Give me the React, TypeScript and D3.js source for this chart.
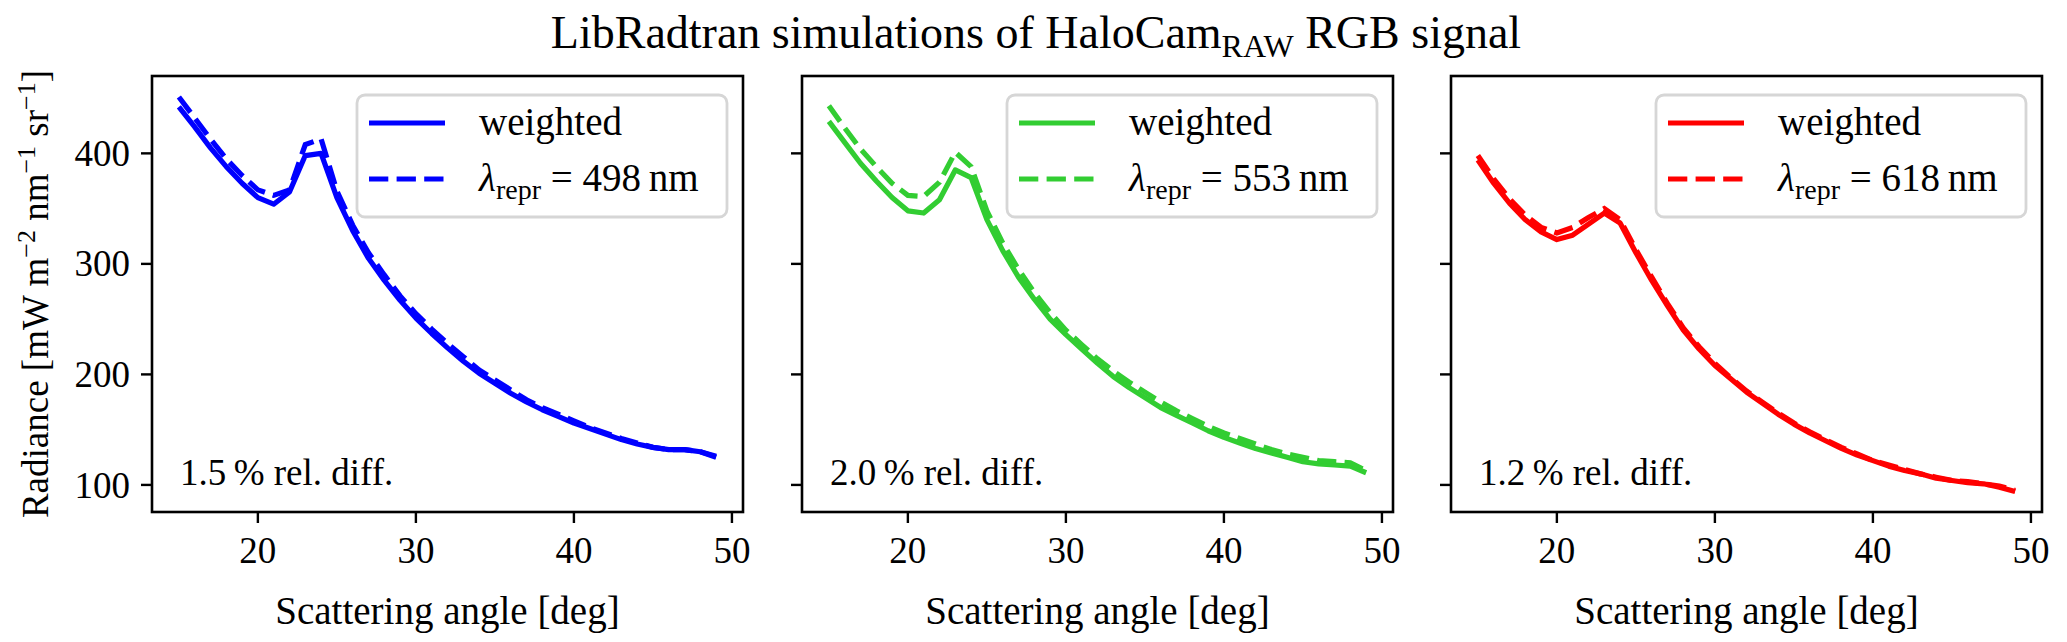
import * as d3 from 'd3';

// scattering angle [deg]
const ANGLES = [15, 16, 17, 18, 19, 20, 21, 22, 23, 24, 25, 26, 27, 28, 29, 30, 31, 32, 33, 34, 35, 36, 37, 38, 39, 40, 41, 42, 43, 44, 45, 46, 47, 48, 49];

// blue channel
const BLUE_WEIGHTED = [442, 424, 405, 388, 373, 360, 354, 365, 398, 400, 360, 330, 305, 285, 267, 251, 237, 224, 212, 201, 192, 183, 175, 168, 162, 156, 151, 146, 141, 137, 134, 132, 132, 130, 125];
const BLUE_REPR = [451, 432, 413, 395, 380, 367, 362, 367, 408, 413, 366, 335, 310, 290, 271, 255, 241, 228, 216, 204, 195, 186, 177, 170, 164, 158, 152, 147, 142, 138, 134, 132, 132, 130, 126];

// green channel
const GREEN_WEIGHTED = [429, 410, 391, 375, 360, 348, 346, 358, 385, 378, 340, 312, 288, 268, 250, 236, 223, 210, 198, 188, 179, 170, 163, 156, 149, 143, 138, 133, 129, 125, 121, 119, 118, 117, 111];
const GREEN_REPR = [443, 423, 404, 388, 373, 362, 361, 374, 401, 388, 348, 319, 295, 274, 256, 240, 227, 214, 203, 193, 184, 175, 167, 160, 153, 147, 142, 137, 132, 128, 125, 122, 121, 120, 113];

// red channel
const RED_WEIGHTED = [394, 373, 355, 340, 329, 322, 326, 336, 346, 337, 310, 285, 262, 240, 223, 208, 196, 184, 174, 164, 155, 147, 140, 133, 127, 122, 117, 113, 110, 106, 104, 102, 101, 98, 94];
const RED_REPR = [398, 377, 359, 344, 333, 328, 333, 342, 350, 340, 313, 288, 264, 242, 225, 210, 197, 185, 175, 165, 156, 148, 141, 134, 128, 122, 118, 114, 110, 107, 104, 103, 101, 99, 95];

const X_TICKS = [20, 30, 40, 50];
const Y_TICKS = [100, 200, 300, 400];

const PANELS = [
    { color: '#0000ff', weighted: BLUE_WEIGHTED, repr: BLUE_REPR, lambda: '498', diff: '1.5' },
    { color: '#32cd32', weighted: GREEN_WEIGHTED, repr: GREEN_REPR, lambda: '553', diff: '2.0' },
    { color: '#ff0000', weighted: RED_WEIGHTED, repr: RED_REPR, lambda: '618', diff: '1.2' },
];

const WIDTH = 2067;
const HEIGHT = 642;
const PANEL_LEFT = [152, 802, 1451];
const PANEL_W = 591;
const TOP = 76;
const BOTTOM = 512;
const FONT = '"Liberation Serif", "DejaVu Serif", serif';
const LW = 5.2;

const xScale = d3.scaleLinear().domain([13.3, 50.7]).range([0, PANEL_W]);
const yScale = d3.scaleLinear().domain([75.5, 470]).range([BOTTOM - TOP, 0]);

function Panel({ index }: { index: number }) {
    const p = PANELS[index];
    const innerH = BOTTOM - TOP;
    const line = d3.line<number>()
        .x((_, i) => xScale(ANGLES[i]))
        .y(d => yScale(d));

    const legW = 370;
    const legH = 122;
    const legX = PANEL_W - 16 - legW;
    const legY = 19;

    return (
        <g transform={`translate(${PANEL_LEFT[index]}, ${TOP})`}>
            <path d={line(p.weighted) || ''} fill="none" stroke={p.color} strokeWidth={LW} strokeLinejoin="round" />
            <path d={line(p.repr) || ''} fill="none" stroke={p.color} strokeWidth={LW} strokeDasharray="19.3 8.3" />

            {/* legend */}
            <rect x={legX} y={legY} width={legW} height={legH} rx={8} fill="white" fillOpacity={0.8} stroke="#d6d6d6" strokeWidth={2.8} />
            <line x1={legX + 12} x2={legX + 88} y1={legY + 28} y2={legY + 28} stroke={p.color} strokeWidth={LW} />
            <line x1={legX + 12} x2={legX + 88} y1={legY + 84} y2={legY + 84} stroke={p.color} strokeWidth={LW} strokeDasharray="19.3 8.3" />
            <text x={legX + 122} y={legY + 40} fontSize={39}>weighted</text>
            <text x={legX + 122} y={legY + 96} fontSize={39}>
                <tspan fontStyle="italic">λ</tspan>
                <tspan dy={8} fontSize={28}>repr</tspan>
                <tspan dy={-8}>{` = ${p.lambda}\u2009nm`}</tspan>
            </text>

            <text x={28} y={innerH - 27} fontSize={37}>{`${p.diff}\u2009% rel. diff.`}</text>

            {/* axes frame */}
            <rect x={0} y={0} width={PANEL_W} height={innerH} fill="none" stroke="black" strokeWidth={2.6} />

            {X_TICKS.map(t => (
                <g key={t} transform={`translate(${xScale(t)}, ${innerH})`}>
                    <line y1={0} y2={11} stroke="black" strokeWidth={2.4} />
                    <text y={51} textAnchor="middle" fontSize={37}>{t}</text>
                </g>
            ))}
            {Y_TICKS.map(t => (
                <g key={t} transform={`translate(0, ${yScale(t)})`}>
                    <line x1={0} x2={-11} stroke="black" strokeWidth={2.4} />
                    {index === 0 && <text x={-22} dy="0.34em" textAnchor="end" fontSize={37}>{t}</text>}
                </g>
            ))}

            <text x={PANEL_W / 2} y={innerH + 112} textAnchor="middle" fontSize={39}>Scattering angle [deg]</text>
        </g>
    );
}

export default function App() {
    const midY = (TOP + BOTTOM) / 2;
    return (
        <>
            <style>{'body { margin: 0; }'}</style>
            <svg width={WIDTH} height={HEIGHT} viewBox={`0 0 ${WIDTH} ${HEIGHT}`} fontFamily={FONT} style={{ display: 'block', background: 'white' }}>
                <text x={1036} y={48} textAnchor="middle" fontSize={46}>
                    LibRadtran simulations of HaloCam
                    <tspan dy={9} fontSize={32}>RAW</tspan>
                    <tspan dy={-9}> RGB signal</tspan>
                </text>

                <text transform={`translate(48, ${midY}) rotate(-90)`} textAnchor="middle" fontSize={37}>
                    Radiance [mW m
                    <tspan dy={-13} fontSize={26}>−2</tspan>
                    <tspan dy={13}> nm</tspan>
                    <tspan dy={-13} fontSize={26}>−1</tspan>
                    <tspan dy={13}> sr</tspan>
                    <tspan dy={-13} fontSize={26}>−1</tspan>
                    <tspan dy={13}>]</tspan>
                </text>

                {PANELS.map((_, i) => <Panel key={i} index={i} />)}
            </svg>
        </>
    );
}
